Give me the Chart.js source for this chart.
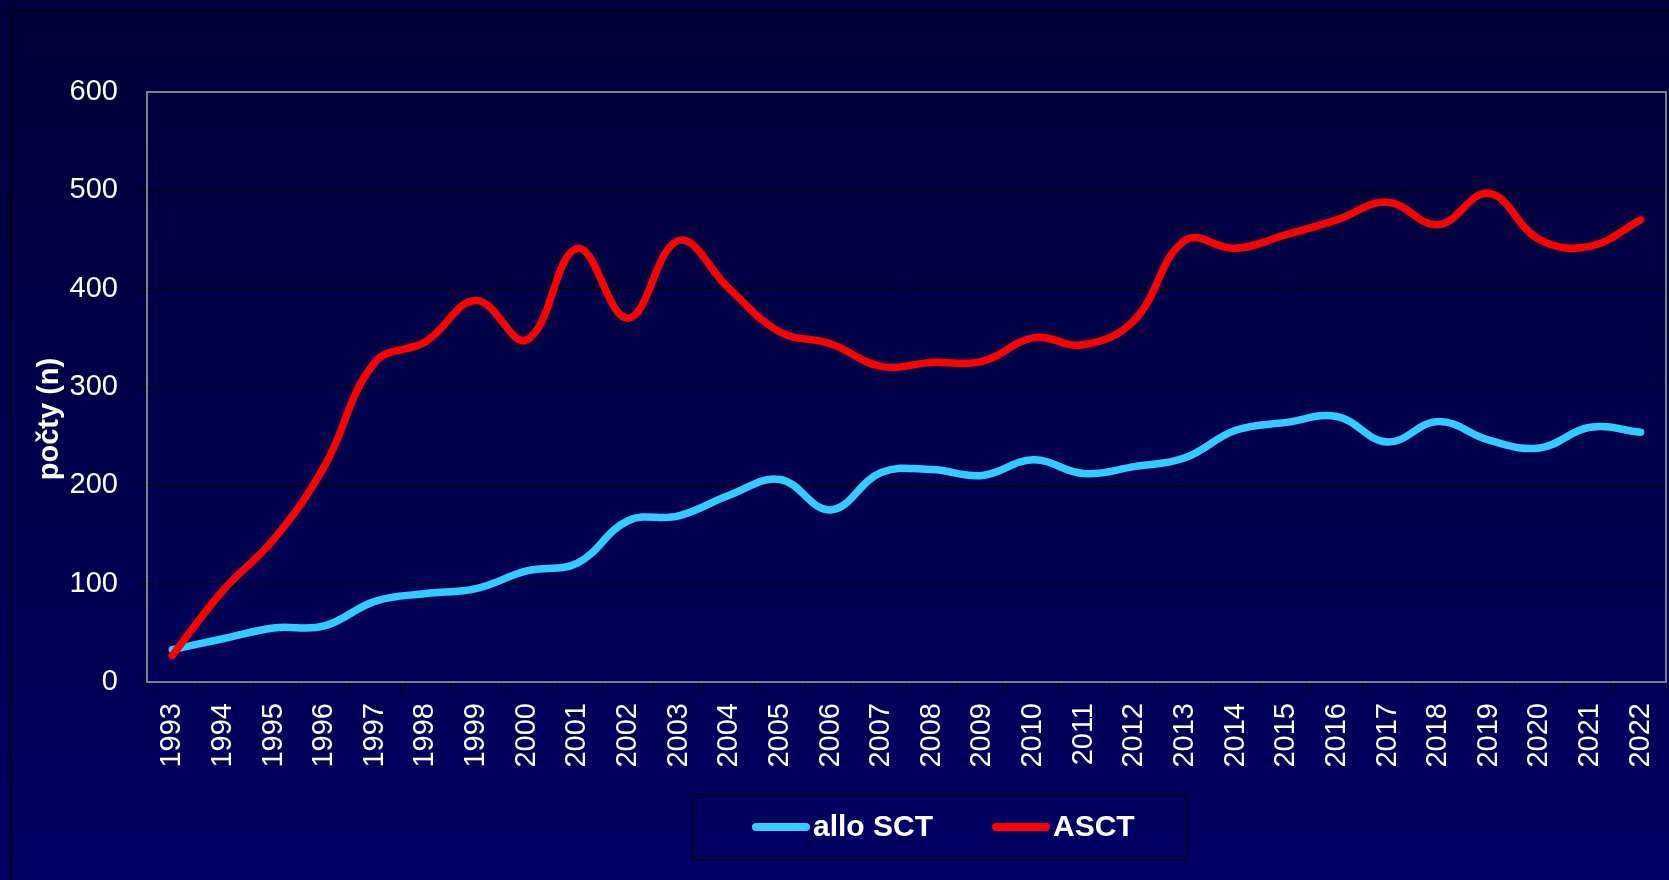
<!DOCTYPE html>
<html>
<head>
<meta charset="utf-8">
<script src="https://cdn.jsdelivr.net/npm/chart.js@4"></script>
<style>
  html, body { margin: 0; padding: 0; background: #00004a; }
  #wrap { width: 1669px; height: 880px; }
</style>
</head>
<body>
<div id="wrap"><canvas id="sctChart" width="1669" height="880"></canvas></div>
<script>
const years = ['1993', '1994', '1995', '1996', '1997', '1998', '1999', '2000', '2001', '2002',
  '2003', '2004', '2005', '2006', '2007', '2008', '2009', '2010', '2011', '2012',
  '2013', '2014', '2015', '2016', '2017', '2018', '2019', '2020', '2021', '2022'];
const alloSct = [33, 44, 55, 57, 82, 90, 95, 113, 121, 164, 169, 190, 206, 175, 213, 216, 210, 226, 212, 219,
  228, 256, 264, 270, 244, 265, 246, 238, 259, 254];
const asct = [27, 93, 145, 219, 325, 346, 388, 348, 441, 370, 449, 400, 356, 344, 321, 325, 326, 350, 343, 368,
  449, 441, 455, 470, 488, 465, 497, 450, 443, 470];
const yTicks = [0, 100, 200, 300, 400, 500, 600];
const yTitle = 'počty (n)';

const FONT = "'Liberation Sans', Arial, sans-serif";
Chart.defaults.font.family = FONT;
Chart.defaults.color = '#ffffff';

// background gradient + old slide frame
const slideBg = {
  id: 'slideBg',
  beforeDraw(chart) {
    const c = chart.ctx;
    const g = c.createLinearGradient(0, 0, 0, chart.height);
    g.addColorStop(0, '#000038');
    g.addColorStop(1, '#000062');
    c.save();
    c.fillStyle = g;
    c.fillRect(0, 0, chart.width, chart.height);
    c.strokeStyle = '#00001a';
    c.lineWidth = 2;
    c.strokeRect(11, 11, chart.width + 20, chart.height + 20);
    c.restore();
  }
};

// gray frame round the plot area
const plotFrame = {
  id: 'plotFrame',
  beforeDatasetsDraw(chart) {
    const a = chart.chartArea;
    const c = chart.ctx;
    c.save();
    c.strokeStyle = '#808080';
    c.lineWidth = 2;
    c.strokeRect(a.left, a.top, a.right - a.left, a.bottom - a.top);
    c.restore();
  }
};

// rotated y title, sits a bit below the axis centre like the original
const yTitlePlugin = {
  id: 'yTitlePlugin',
  afterDraw(chart) {
    const c = chart.ctx;
    c.save();
    c.translate(50, 419);
    c.rotate(-Math.PI / 2);
    c.font = 'bold 29px ' + FONT;
    c.fillStyle = '#ffffff';
    c.textAlign = 'center';
    c.textBaseline = 'middle';
    c.fillText(yTitle, 0, 0);
    c.restore();
  }
};

// boxed legend under the axis
const boxLegend = {
  id: 'boxLegend',
  afterDraw(chart) {
    const c = chart.ctx;
    c.save();
    c.strokeStyle = '#000000';
    c.lineWidth = 1;
    c.strokeRect(692.5, 794.5, 495, 65);
    c.font = 'bold 30px ' + FONT;
    c.textBaseline = 'middle';
    c.textAlign = 'left';
    let x = 752;
    const y = 827;
    chart.data.datasets.forEach(ds => {
      c.strokeStyle = ds.borderColor;
      c.lineWidth = 8;
      c.lineCap = 'round';
      c.beginPath();
      c.moveTo(x + 4, y);
      c.lineTo(x + 54, y);
      c.stroke();
      c.fillStyle = '#ffffff';
      c.fillText(ds.label, x + 61, y + 1);
      x += 61 + c.measureText(ds.label).width + 59;
    });
    c.restore();
  }
};

new Chart(document.getElementById('sctChart'), {
  type: 'line',
  data: {
    labels: years,
    datasets: [
      {
        label: 'allo SCT',
        data: alloSct,
        borderColor: '#33ccff',
        borderWidth: 7.5,
        borderCapStyle: 'round',
        pointRadius: 0,
        tension: 0.4,
        order: 1
      },
      {
        label: 'ASCT',
        data: asct,
        borderColor: '#ff0000',
        borderWidth: 7.5,
        borderCapStyle: 'round',
        pointRadius: 0,
        tension: 0.4,
        order: 0
      }
    ]
  },
  options: {
    responsive: false,
    animation: false,
    layout: { padding: { top: 92, right: 3, left: 0, bottom: 0 } },
    plugins: {
      legend: { display: false },
      tooltip: { enabled: false }
    },
    scales: {
      x: {
        offset: true,
        afterFit(scale) {
          scale.height = 198;
          scale.paddingLeft = 0;
          scale.paddingRight = 0;
        },
        grid: { offset: true, drawOnChartArea: false, color: '#000000', tickLength: 10, lineWidth: 1 },
        border: { display: false },
        ticks: { color: '#ffffff', font: { size: 29 }, minRotation: 90, maxRotation: 90, padding: 11, autoSkip: false }
      },
      y: {
        min: 0,
        max: 600,
        afterFit(scale) {
          scale.width = 147;
          scale.paddingTop = 0;
          scale.paddingBottom = 0;
        },
        afterBuildTicks(scale) { scale.ticks = yTicks.map(v => ({ value: v })); },
        grid: { color: '#000000', tickLength: 9, lineWidth: 1 },
        border: { display: false },
        ticks: { color: '#ffffff', font: { size: 29 }, padding: 20 }
      }
    }
  },
  plugins: [slideBg, plotFrame, yTitlePlugin, boxLegend]
});
</script>
</body>
</html>
